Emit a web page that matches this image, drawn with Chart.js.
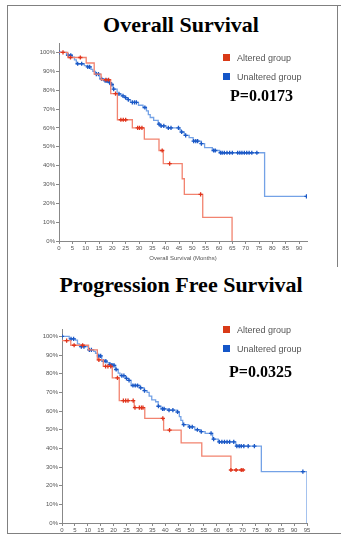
<!DOCTYPE html>
<html>
<head>
<meta charset="utf-8">
<script src="https://cdn.jsdelivr.net/npm/chart.js@4.4.1/dist/chart.umd.min.js"></script>
<style>
  html, body { margin: 0; padding: 0; background: #fff; }
  body { width: 341px; height: 535px; position: relative; overflow: hidden; }
  canvas { position: absolute; left: 0; }
  .frame { position: absolute; border: 0 solid #808080; }
  .title { position: absolute; left: 181px; transform: translateX(-50%); font-family: "Times New Roman", "Liberation Serif", serif; font-weight: bold; font-size: 22px; line-height: 22px; white-space: nowrap; color: #000; }
  .pval { position: absolute; font-family: "Times New Roman", "Liberation Serif", serif; font-weight: bold; font-size: 16px; line-height: 16px; white-space: nowrap; color: #000; }
  .leg { position: absolute; left: 223px; height: 9px; display: flex; align-items: center; font-family: Arial, "Liberation Sans", sans-serif; font-size: 9px; color: #555; white-space: nowrap; }
  .leg i { display: inline-block; width: 7px; height: 7px; margin-right: 7px; }
</style>
</head>
<body>
<div class="frame" style="left:7px;top:5px;width:334px;height:527px;border-left-width:1px;border-top-width:1px;border-bottom-width:1px;"></div>
<div class="frame" style="left:337px;top:5px;width:0;height:262px;border-left-width:1px;"></div>

<div class="title" style="top:14px;">Overall Survival</div>
<div class="title" style="top:274px;">Progression Free Survival</div>

<canvas id="os" width="341" height="270" style="top:0;"></canvas>
<canvas id="pfs" width="341" height="265" style="top:270px;"></canvas>

<div class="leg" style="top:53px;"><i style="background:#d93a17"></i>Altered group</div>
<div class="leg" style="top:72px;"><i style="background:#1456c8"></i>Unaltered group</div>
<div class="pval" style="left:230px;top:88px;">P=0.0173</div>

<div class="leg" style="top:325px;"><i style="background:#d93a17"></i>Altered group</div>
<div class="leg" style="top:344px;"><i style="background:#1456c8"></i>Unaltered group</div>
<div class="pval" style="left:229px;top:364px;">P=0.0325</div>

<script>
// Overall survival, months -> % surviving (step points after each drop)
const osAltTime = [0, 3.3, 10.2, 13.2, 15.8, 19.4, 21.9, 27.5, 32, 37.5, 39.1, 46.2, 47, 53.9, 64.9];
const osAltSurv = [100, 97.3, 94.4, 88.5, 85.5, 78.2, 64.3, 60, 54, 48, 41, 33, 24.7, 12.5, 0];
const osAltCensor = [1.5, 4.3, 8, 17.6, 18.6, 21.2, 23.2, 24.1, 25, 29.5, 30.2, 31.1, 38.7, 41.5, 53.1];

const osUnTime = [0, 2.8, 5, 5.8, 6.5, 9.5, 10.5, 12, 12.7, 13.7, 15.3, 16.8, 18.5, 19.6, 20.3, 21.8, 23.3, 24.6, 25.7, 26.8, 29.8, 31.5, 32.8, 33.5, 34.2, 35.5, 37.2, 38, 40.2, 45.3, 45.8, 47, 48.8, 50.3, 53.3, 54.6, 57.5, 60.2, 77.1, 92.8];
const osUnSurv = [100, 98.5, 97.5, 96, 94, 93, 92.3, 91, 90, 88.5, 86, 85, 84, 83, 80.5, 78, 77, 76, 75, 73.5, 72, 70.8, 69, 67, 65.5, 64, 62, 61, 60, 59, 57.8, 56, 54.8, 53, 51.6, 49.5, 48, 46.8, 23.7, 23.7];
const osUnCensor = [0, 3.5, 4.4, 7, 8.5, 10.8, 11.5, 14, 14.8, 16, 17.3, 17.8, 18.3, 19, 19.8, 20.5, 22.5, 24, 25, 26, 27.5, 28.3, 29, 32.2, 37.5, 38.3, 39.3, 41, 42, 44.8, 46, 47.5, 50.5, 51.3, 52, 53.4, 58, 58.6, 60.6, 61.2, 62, 63, 64, 65, 67, 67.8, 68.6, 69.5, 70.4, 71.3, 72.3, 74.2, 92.8];

// Progression free survival
const pfsAltTime = [0, 3.4, 10.3, 13.7, 16, 19.5, 22.2, 28, 32.1, 39.4, 46.2, 54.2, 65.5, 70];
const pfsAltSurv = [97.8, 95.3, 92.8, 87.5, 84, 77.8, 65.6, 61.8, 56.1, 49.8, 43, 35.8, 28.4, 28.4];
const pfsAltCensor = [1.8, 4.7, 8, 14.3, 16.9, 17.8, 18.9, 21.5, 23.8, 24.7, 25.6, 27.6, 28.3, 30, 30.8, 31.4, 39.1, 41.7, 65.5, 67.5, 69.5, 70.2];

const pfsUnTime = [0, 2.8, 5.2, 6, 6.8, 10.2, 12.3, 13, 13.8, 15.4, 17.4, 18.4, 19.2, 20.8, 21.8, 22.5, 24.7, 25.8, 26.8, 30.3, 31.8, 33, 33.8, 34.8, 36.3, 37.3, 38.4, 40.8, 44.8, 45.5, 46.1, 46.8, 49, 51.5, 53.6, 55.5, 58.4, 60.6, 67.4, 77.3, 95];
const pfsUnSurv = [100, 98.7, 98, 96, 94.6, 92.8, 92, 91, 89.6, 86.8, 86, 85, 84.5, 82.3, 80.3, 79, 77.5, 76.5, 73.7, 72.5, 71, 70, 68, 66, 65, 62.6, 61.2, 60.5, 59.5, 57, 55, 52.7, 51.5, 50, 49, 48, 45, 43.5, 41.2, 27.5, 0];
const pfsUnCensor = [0, 3.5, 4.5, 7.5, 8.5, 10.6, 11.4, 14.3, 15, 16.2, 17, 18.6, 19.2, 19.7, 20.2, 21, 23.2, 24, 25, 26, 27.5, 28.4, 29.3, 30.5, 32, 37.4, 39, 39.6, 41.5, 43, 44.8, 47.2, 49.5, 50.5, 52.5, 54, 57.8, 58.8, 61, 62, 63, 64, 65, 66.6, 67.8, 68.7, 69.5, 70.5, 72.2, 74.6, 93.4];

const redLine = '#f2836f', redMark = '#e0341c';
const blueLine = '#74a2e6', blueMark = '#1a58c6';

Chart.defaults.font.family = 'Arial, "Liberation Sans", sans-serif';
Chart.defaults.color = '#555';

function steps(ts, ss) {
  return ts.map((t, i) => ({ x: t, y: ss[i] }));
}
// censor marks sit on the curve at their time
function censors(ts, ss, cs) {
  return cs.map(c => {
    let k = 0;
    for (let i = 0; i < ts.length; i++) if (ts[i] <= c) k = i;
    return { x: c, y: ss[k] };
  });
}

function kmDatasets(ts, ss, cs, line, mark) {
  return [
    { data: censors(ts, ss, cs), showLine: false, pointStyle: 'cross', pointRadius: 2.1,
      borderColor: mark, backgroundColor: mark, pointBorderWidth: 1.3 },
    { data: steps(ts, ss), borderColor: line, borderWidth: 1.3, stepped: 'before',
      pointRadius: 0, fill: false }
  ];
}

function makeChart(id, o) {
  return new Chart(document.getElementById(id), {
    type: 'line',
    data: {
      datasets: [
        ...kmDatasets(o.alt[0], o.alt[1], o.alt[2], redLine, redMark),
        ...kmDatasets(o.un[0], o.un[1], o.un[2], blueLine, blueMark)
      ]
    },
    options: {
      responsive: false,
      animation: false,
      devicePixelRatio: 1,
      layout: { padding: o.pad },
      plugins: { legend: { display: false }, tooltip: { enabled: false } },
      scales: {
        x: {
          type: 'linear', min: 0, max: o.xMax,
          grid: { drawOnChartArea: false, tickLength: 3, color: '#888' },
          border: { color: '#888' },
          ticks: { stepSize: 5, includeBounds: false, padding: 1, maxRotation: 0, autoSkip: false, font: { size: 6 } },
          title: { display: !!o.xTitle, text: o.xTitle, font: { size: 6 }, padding: { top: 0, bottom: 8 } },
          afterFit: s => { s.height = o.xHeight; }
        },
        y: {
          min: 0, max: o.yMax,
          grid: { drawOnChartArea: false, tickLength: 3, color: '#888' },
          border: { color: '#888' },
          ticks: { stepSize: 10, includeBounds: false, padding: 1, font: { size: 6 }, callback: v => v + '%' },
          afterBuildTicks: s => { s.ticks = s.ticks.filter(t => t.value <= 100); },
          afterFit: s => { s.width = o.yWidth; }
        }
      }
    }
  });
}

makeChart('os', {
  alt: [osAltTime, osAltSurv, osAltCensor],
  un: [osUnTime, osUnSurv, osUnCensor],
  xMax: 93, yMax: 105, xTitle: 'Overall Survival (Months)',
  pad: { left: 0, right: 34, top: 43, bottom: 0 },
  xHeight: 29, yWidth: 59
});

makeChart('pfs', {
  alt: [pfsAltTime, pfsAltSurv, pfsAltCensor],
  un: [pfsUnTime, pfsUnSurv, pfsUnCensor],
  xMax: 95, yMax: 104, xTitle: '',
  pad: { left: 0, right: 34, top: 59, bottom: 0 },
  xHeight: 12, yWidth: 62
});
</script>
</body>
</html>
